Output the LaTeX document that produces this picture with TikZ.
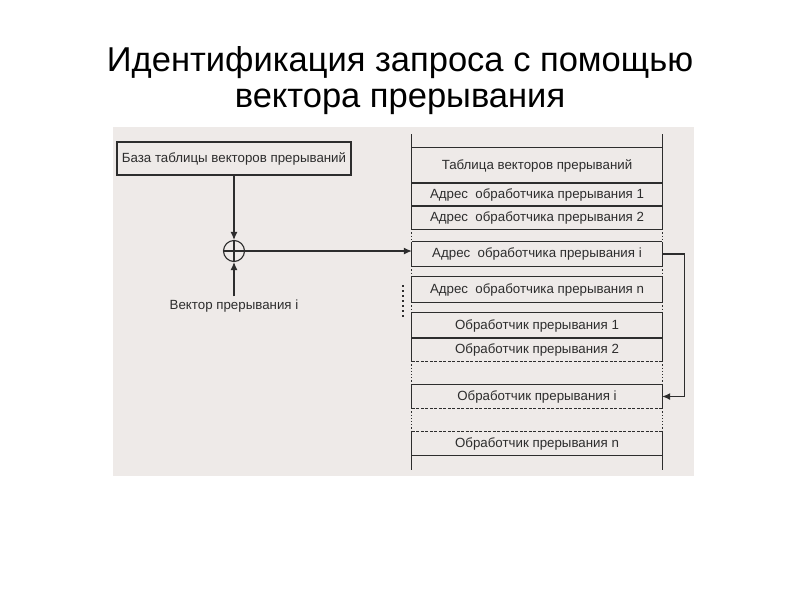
\documentclass[tikz,border=0pt]{standalone}
\usepackage{fontspec}
\setmainfont{Liberation Sans}
\usetikzlibrary{arrows.meta}
\definecolor{scanbg}{RGB}{238,234,232}
\definecolor{ink}{RGB}{45,45,45}
\begin{document}
\begin{tikzpicture}[x=1pt, y=-1pt, font=\fontsize{13.3}{15}\selectfont]
			\tikzset{
				row/.style={rectangle, minimum width=250pt, inner sep=0pt, text=ink},
				basebox/.style={rectangle, draw=ink, line width=1.4pt, minimum width=234pt, minimum height=33pt, inner sep=0pt, text=ink},
				summer/.style={circle, draw=ink, line width=1.1pt, minimum size=21pt, inner sep=0pt},
				rule/.style={draw=ink, line width=1.1pt},
				dashrule/.style={draw=ink, line width=1.1pt, dash pattern=on 3pt off 1.5pt},
				gapline/.style={draw=ink, line width=1.1pt, dash pattern=on 1.2pt off 2pt},
				arr/.style={draw=ink, line width=1.1pt, -{Latex[length=8pt, width=7pt]}}
			}
			\useasboundingbox (0,0) rectangle (800,600);
			\fill[scanbg] (113,127) rectangle (694,476);
			\node[align=center, font=\fontsize{34.5}{36}\selectfont, text=black] (title) at (400,81) {Идентификация запроса с помощью\\вектора прерывания};
			% table rows
			\node[row, minimum height=35pt] (tab) at (537,165.5) {Таблица векторов прерываний};
			\node[row, minimum height=23pt] (a1) at (537,194.5) {Адрес\ \ обработчика прерывания 1};
			\node[row, minimum height=23pt] (a2) at (537,217.5) {Адрес\ \ обработчика прерывания 2};
			\node[row, minimum height=24pt] (ai) at (537,254) {Адрес\ \ обработчика прерывания i};
			\node[row, minimum height=25pt] (an) at (537,289.5) {Адрес\ \ обработчика прерывания n};
			\node[row, minimum height=25pt] (h1) at (537,325.5) {Обработчик прерывания 1};
			\node[row, minimum height=23pt] (h2) at (537,349.5) {Обработчик прерывания 2};
			\node[row, minimum height=23pt] (hi) at (537,396.5) {Обработчик прерывания i};
			\node[row, minimum height=23pt] (hn) at (537,443.5) {Обработчик прерывания n};
			\foreach \r in {tab,a1,a2,ai,an,h1,h2,hi,hn}
				\draw[rule] (\r.north west) -- (\r.south west) (\r.north east) -- (\r.south east);
			\foreach \r in {tab,a1,a2,ai,an,h1,h2,hi}
				\draw[rule] (\r.north west) -- (\r.north east);
			\foreach \r in {tab,a1,a2,ai,an,h1,hn}
				\draw[rule] (\r.south west) -- (\r.south east);
			\draw[dashrule] (h2.south west) -- (h2.south east);
			\draw[dashrule] (hi.south west) -- (hi.south east);
			\draw[dashrule] (hn.north west) -- (hn.north east);
			\foreach \u/\v in {a2/ai, ai/an, an/h1, h2/hi, hi/hn}{
				\draw[gapline] (\u.south west) -- (\v.north west);
				\draw[gapline] (\u.south east) -- (\v.north east);
			}
			\draw[rule] (tab.north west) -- ++(0,-14) (tab.north east) -- ++(0,-14);
			\draw[rule] (hn.south west) -- ++(0,15) (hn.south east) -- ++(0,15);
			\draw[ink, line width=2pt, dash pattern=on 2pt off 3pt] (403,285) -- (403,318);
			% base and vector
			\node[basebox] (base) at (234,158.5) {База таблицы векторов прерываний};
			\node[summer] (sum) at (234,251) {};
			\node[text=ink] (vlab) at (234,306) {Вектор прерывания i};
			\draw[rule] (sum.north) -- (sum.south);
			\draw[arr] (base.south) -- (sum.north);
			\draw[arr] (vlab.north) -- (sum.south);
			\draw[arr] (sum.west) -- (sum.west -| ai.west);
			\draw[arr] (ai.east) -- ++(22,0) |- (hi.east);
		\end{tikzpicture}
\end{document}
